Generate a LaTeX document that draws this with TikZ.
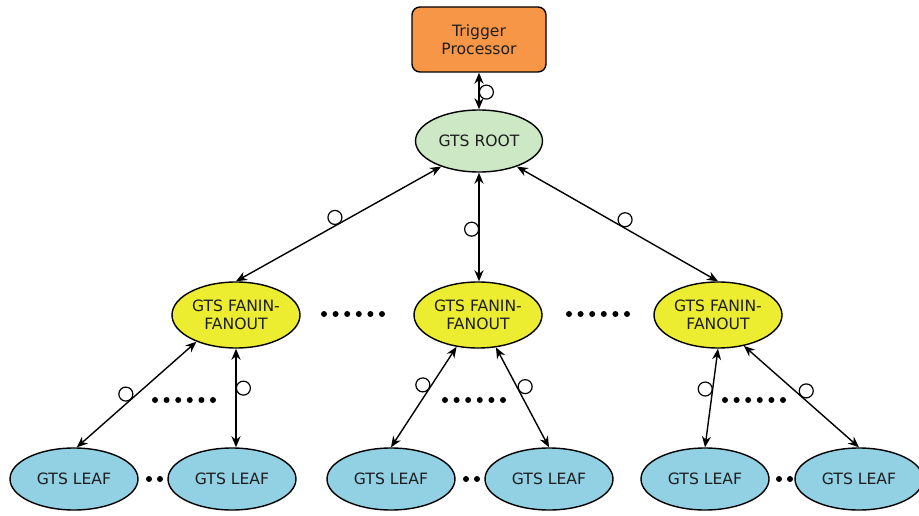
\documentclass[tikz,border=0pt]{standalone}
\usepackage{fontspec}
\setmainfont{DejaVu Sans}
\usetikzlibrary{shapes.geometric,arrows.meta}
\definecolor{tporange}{RGB}{247,150,70}
\definecolor{rootgreen}{RGB}{204,232,196}
\definecolor{fanyellow}{RGB}{236,236,48}
\definecolor{leafblue}{RGB}{146,208,228}
\definecolor{txt}{RGB}{30,30,30}
\begin{document}
\begin{tikzpicture}[x=1pt,y=-1pt,
  every node/.style={font=\fontsize{15.6}{18.5}\selectfont, text=txt},
  ell/.style={ellipse, draw=black, line width=1.4pt, inner sep=0pt, minimum width=128pt, minimum height=62pt, align=center},
  leafnode/.style={ell, fill=leafblue},
  fannode/.style={ell, fill=fanyellow, minimum height=66pt},
  rootnode/.style={ell, fill=rootgreen, minimum width=127pt},
  tpnode/.style={draw=black, line width=1.4pt, fill=tporange, rounded corners=8pt, minimum width=134pt, minimum height=65pt, align=center, inner sep=0pt},
  link/.style={line width=1.4pt, {Stealth[length=11pt,width=9pt]}-{Stealth[length=11pt,width=9pt]}},
  thicklink/.style={line width=2.2pt, {Stealth[length=11pt,width=9pt]}-{Stealth[length=11pt,width=9pt]}},
  circ/.style={circle, draw=black, line width=1.2pt, minimum size=14pt, inner sep=0pt, fill=none},
  dotfill/.style={fill=black}
]
\useasboundingbox (0,0) rectangle (919,516);

\node[tpnode] (tp) at (479,39.5) {Trigger\\Processor};
\node[rootnode] (root) at (479,141) {GTS ROOT};
\node[fannode] (fanL) at (236,315) {GTS FANIN-\\FANOUT};
\node[fannode] (fanM) at (478,315) {GTS FANIN-\\FANOUT};
\node[fannode] (fanR) at (718,315) {GTS FANIN-\\FANOUT};
\node[leafnode] (leaf1) at (74,479) {GTS LEAF};
\node[leafnode] (leaf2) at (232,479) {GTS LEAF};
\node[leafnode] (leaf3) at (391,479) {GTS LEAF};
\node[leafnode] (leaf4) at (549,479) {GTS LEAF};
\node[leafnode] (leaf5) at (705,479) {GTS LEAF};
\node[leafnode] (leaf6) at (859,479) {GTS LEAF};

\draw[thicklink] (tp.south) -- node[circ, pos=0.53, xshift=7.4pt] {} (root.north);
\draw[link] (root.214) -- node[circ, pos=0.5, xshift=-3.6pt, yshift=6.5pt] {} (fanL.north);
\draw[thicklink, line width=1.8pt] (root.south) -- node[circ, pos=0.52, xshift=-7.4pt] {} (root.south |- fanM.north);
\draw[link] (root.326) -- node[circ, pos=0.52, xshift=3.6pt, yshift=6.5pt] {} (fanR.north);

\draw[link] (fanL.214) -- node[circ, pos=0.55, xshift=-4.8pt, yshift=5.7pt] {} (leaf1.85);
\draw[thicklink] (fanL.south) -- node[circ, pos=0.4, xshift=7.4pt] {} (fanL.south |- leaf2.north);
\draw[link] (fanM.236) -- node[circ, pos=0.42, xshift=-6.2pt, yshift=4.1pt] {} (leaf3.north);
\draw[link] (fanM.299) -- node[circ, pos=0.43, xshift=6.4pt, yshift=3.7pt] {} (leaf4.north);
\draw[link] (fanR.south) -- node[circ, pos=0.42, xshift=-7.3pt, yshift=1.1pt] {} (leaf5.north);
\draw[link] (fanR.310) -- node[circ, pos=0.5, xshift=4.8pt, yshift=5.7pt] {} (leaf6.north);

% dots between fanin nodes
\foreach \x in {0,...,5} {
  \fill[dotfill] (324+\x*11.6,314) circle (3pt);
  \fill[dotfill] (569+\x*11.6,314) circle (3pt);
  \fill[dotfill] (155+\x*11.6,400) circle (3pt);
  \fill[dotfill] (445+\x*11.6,400) circle (3pt);
  \fill[dotfill] (725+\x*11.6,400) circle (3pt);
}
% dots between leaves
\foreach \x in {149,160, 466,477, 779,790} {
  \fill[dotfill] (\x,479) circle (3pt);
}
\end{tikzpicture}
\end{document}
